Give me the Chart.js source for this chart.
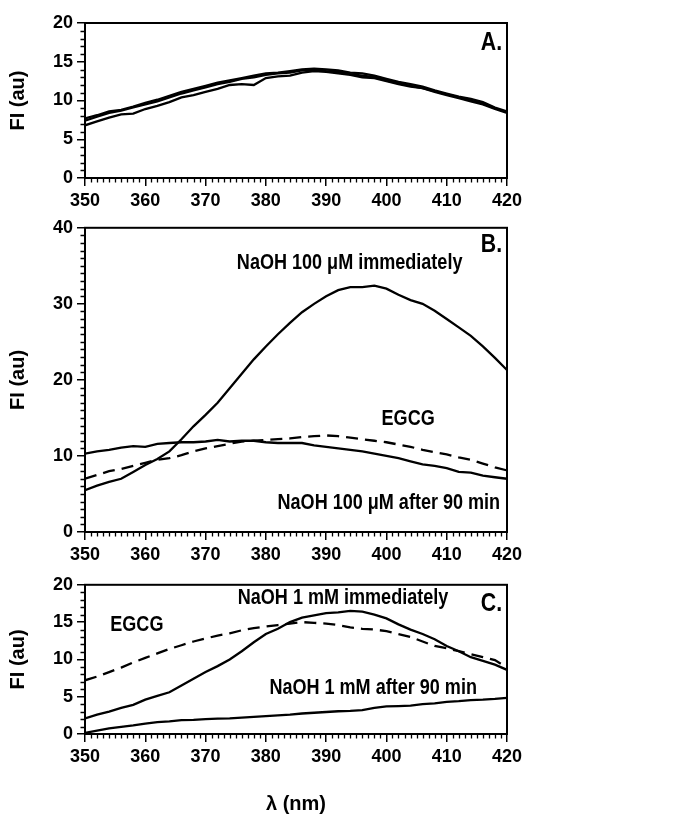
<!DOCTYPE html>
<html><head><meta charset="utf-8">
<script src="https://cdn.jsdelivr.net/npm/chart.js@4/dist/chart.umd.min.js"></script>
<style>
html,body{margin:0;padding:0;background:#fff;width:681px;height:816px;overflow:hidden;position:relative}
canvas{position:absolute;left:0}
</style></head><body>
<canvas id="cA" width="681" height="213" style="top:0px"></canvas>
<canvas id="cB" width="681" height="357" style="top:213px"></canvas>
<canvas id="cC" width="681" height="246" style="top:570px"></canvas>
<script>
// ---------- DATA ----------
const wavelengths = [350,352,354,356,358,360,362,364,366,368,370,372,374,376,378,380,382,384,386,388,390,392,394,396,398,400,402,404,406,408,410,412,414,416,418,420];

// Panel A: three replicate spectra
const a_run1 = [7.7,8.1,8.6,8.8,9.2,9.7,10.1,10.6,11.1,11.5,11.9,12.3,12.6,12.9,13.2,13.5,13.6,13.8,14.0,14.1,14.0,13.9,13.6,13.5,13.2,12.8,12.4,12.1,11.8,11.3,10.9,10.5,10.2,9.8,9.1,8.6];
const a_run2 = [7.4,7.9,8.4,8.7,9.1,9.5,9.9,10.4,10.9,11.3,11.7,12.1,12.4,12.8,13.0,13.3,13.5,13.6,13.9,14.0,13.8,13.7,13.4,13.2,13.0,12.6,12.2,11.9,11.6,11.1,10.7,10.3,9.9,9.5,8.9,8.4];
const a_run3 = [6.8,7.3,7.8,8.2,8.3,8.9,9.3,9.8,10.4,10.7,11.1,11.5,12.0,12.1,12.0,12.9,13.1,13.2,13.6,13.8,13.7,13.5,13.3,13.0,12.9,12.5,12.1,11.8,11.6,11.2,10.8,10.4,10.0,9.6,9.0,8.5];

// Panel B
const b_naoh100_immediately = [5.5,6.1,6.6,7.0,7.9,8.8,9.6,10.6,12.2,13.9,15.4,17.0,18.9,20.8,22.7,24.4,26.0,27.5,28.9,30.0,31.0,31.8,32.2,32.2,32.4,32.0,31.2,30.5,30.0,29.1,28.0,26.9,25.8,24.4,22.9,21.3];
const b_naoh100_after90 = [10.3,10.6,10.8,11.1,11.3,11.2,11.6,11.7,11.8,11.8,11.9,12.1,11.9,12.0,12.0,11.8,11.7,11.7,11.7,11.4,11.2,11.0,10.8,10.6,10.3,10.0,9.7,9.3,8.9,8.7,8.4,7.9,7.8,7.4,7.2,7.0];
const b_egcg = [7.0,7.5,8.0,8.3,8.7,9.1,9.5,9.7,10.1,10.6,11.0,11.3,11.6,11.9,12.0,12.1,12.2,12.3,12.5,12.6,12.7,12.6,12.4,12.2,12.0,11.8,11.5,11.2,10.8,10.5,10.2,9.8,9.5,9.0,8.5,8.1];

// Panel C
const c_naoh1_immediately = [2.1,2.6,3.0,3.5,3.9,4.6,5.1,5.6,6.5,7.4,8.3,9.1,10.0,11.1,12.3,13.4,14.1,15.0,15.6,15.9,16.2,16.3,16.5,16.4,16.0,15.5,14.7,14.0,13.4,12.7,11.8,11.1,10.3,9.8,9.3,8.6];
const c_egcg = [7.2,7.7,8.3,8.9,9.6,10.2,10.8,11.4,11.9,12.4,12.8,13.2,13.5,13.9,14.2,14.4,14.6,14.8,15.0,14.9,14.8,14.6,14.3,14.1,14.0,13.8,13.4,13.0,12.4,11.8,11.5,11.1,10.7,10.3,9.9,8.9];
const c_naoh1_after90 = [0.15,0.45,0.75,0.95,1.15,1.4,1.6,1.7,1.85,1.9,2.0,2.05,2.1,2.2,2.3,2.4,2.5,2.6,2.75,2.85,2.95,3.05,3.1,3.2,3.5,3.7,3.75,3.8,4.0,4.1,4.3,4.4,4.55,4.6,4.7,4.85];

// Tick / axis text
const xTickValues = [350,360,370,380,390,400,410,420];
const yAxisTitle = 'FI (au)';
const xAxisTitle = 'λ (nm)';

// ---------- STYLE ----------
const SANS = "'Liberation Sans',Arial,sans-serif";
Chart.defaults.font.family = SANS;
Chart.defaults.color = '#000';
const NARROW_SCALE = 0.82;

const framePlugin = {
  id: 'frame',
  afterDraw(chart) {
    const {ctx, chartArea: a, scales} = chart;
    ctx.save();
    ctx.strokeStyle = '#000';
    ctx.lineWidth = 2;
    ctx.strokeRect(a.left, a.top, a.right - a.left, a.bottom - a.top);
    // minor ticks
    ctx.lineWidth = 1.3;
    const xs = scales.x, ys = scales.y;
    ctx.beginPath();
    for (let v = xs.min; v <= xs.max; v += 1) {
      if (v % 10 === 0) continue;
      const px = Math.round(xs.getPixelForValue(v)) + 0.5;
      ctx.moveTo(px, a.bottom); ctx.lineTo(px, a.bottom + 4.5);
    }
    const major = chart.options.scales.y.ticks.stepSize;
    for (let v = ys.min; v <= ys.max; v += 1) {
      if (v % major === 0) continue;
      const py = Math.round(ys.getPixelForValue(v)) + 0.5;
      ctx.moveTo(a.left - 4.5, py); ctx.lineTo(a.left, py);
    }
    ctx.stroke();
    // annotations (condensed bold text, like Arial Narrow)
    const notes = chart.options.plugins.frame.notes || [];
    ctx.fillStyle = '#000';
    ctx.textBaseline = 'middle';
    for (const n of notes) {
      ctx.save();
      ctx.translate(xs.getPixelForValue(n.x), ys.getPixelForValue(n.y));
      ctx.scale(NARROW_SCALE, 1);
      ctx.font = n.font;
      ctx.textAlign = n.align;
      ctx.fillText(n.text, 0, 0);
      ctx.restore();
    }
    ctx.restore();
  }
};

const TICK_FONT = {family: SANS, size: 18, weight: 'bold'};
const NOTE_FONT = "bold 22px " + SANS;
const LETTER_FONT = "bold 26px " + SANS;

function makePanel(id, cfg) {
  const datasets = cfg.series.map(s => ({
    data: wavelengths.map((w, i) => ({x: w, y: s.values[i]})),
    borderColor: '#000',
    borderWidth: 2.3,
    borderDash: s.dash ? [12, 7] : [],
    pointRadius: 0,
    tension: 0,
    fill: false
  }));
  return new Chart(document.getElementById(id), {
    type: 'line',
    data: {datasets},
    options: {
      responsive: false,
      animation: false,
      layout: {padding: {top: cfg.padTop, right: 174, left: 0, bottom: 0}},
      plugins: {legend: {display: false}, tooltip: {enabled: false}, frame: {notes: cfg.notes}},
      scales: {
        x: {
          type: 'linear', min: 350, max: 420,
          afterBuildTicks(s) { s.ticks = xTickValues.map(v => ({value: v})); },
          ticks: {font: TICK_FONT, color: '#000', padding: 4, maxRotation: 0, autoSkip: false},
          grid: {display: true, drawOnChartArea: false, tickLength: 8, color: '#000', lineWidth: 1.5},
          border: {display: true, color: '#000', width: 2},
          afterFit(s) { s.height = cfg.xH; },
          title: {display: !!cfg.xTitle, text: xAxisTitle, font: {family: SANS, size: 20, weight: 'bold'}, color: '#000', padding: {top: 0, bottom: 0}}
        },
        y: {
          min: 0, max: cfg.ymax,
          ticks: {stepSize: cfg.ystep, font: TICK_FONT, color: '#000', padding: 4},
          grid: {display: true, drawOnChartArea: false, tickLength: 8, color: '#000', lineWidth: 1.5},
          border: {display: true, color: '#000', width: 2},
          afterFit(s) { s.width = 85; },
          title: {display: true, text: yAxisTitle, font: {family: SANS, size: 20, weight: 'bold'}, color: '#000', padding: {top: 6, bottom: 0}}
        }
      }
    },
    plugins: [framePlugin]
  });
}

makePanel('cA', {
  padTop: 23, xH: 35, ymax: 20, ystep: 5,
  series: [{values: a_run1}, {values: a_run2}, {values: a_run3}],
  notes: [{text: 'A.', x: 419.2, y: 17.4, align: 'right', font: LETTER_FONT}]
});
makePanel('cB', {
  padTop: 12, xH: 38, ymax: 40, ystep: 10,
  series: [{values: b_naoh100_immediately}, {values: b_naoh100_after90}, {values: b_egcg, dash: true}],
  notes: [
    {text: 'B.', x: 419.2, y: 37.7, align: 'right', font: LETTER_FONT},
    {text: 'NaOH 100 μM immediately', x: 393.9, y: 35.4, align: 'center', font: NOTE_FONT},
    {text: 'EGCG', x: 403.6, y: 14.9, align: 'center', font: NOTE_FONT},
    {text: 'NaOH 100 μM after 90 min', x: 400.4, y: 3.8, align: 'center', font: NOTE_FONT}
  ]
});
makePanel('cC', {
  padTop: 12, xH: 82, ymax: 20, ystep: 5, xTitle: true,
  series: [{values: c_naoh1_immediately}, {values: c_egcg, dash: true}, {values: c_naoh1_after90}],
  notes: [
    {text: 'C.', x: 419.2, y: 17.4, align: 'right', font: LETTER_FONT},
    {text: 'NaOH 1 mM immediately', x: 392.8, y: 18.2, align: 'center', font: NOTE_FONT},
    {text: 'EGCG', x: 358.6, y: 14.6, align: 'center', font: NOTE_FONT},
    {text: 'NaOH 1 mM after 90 min', x: 397.8, y: 6.2, align: 'center', font: NOTE_FONT}
  ]
});
</script>
</body></html>
